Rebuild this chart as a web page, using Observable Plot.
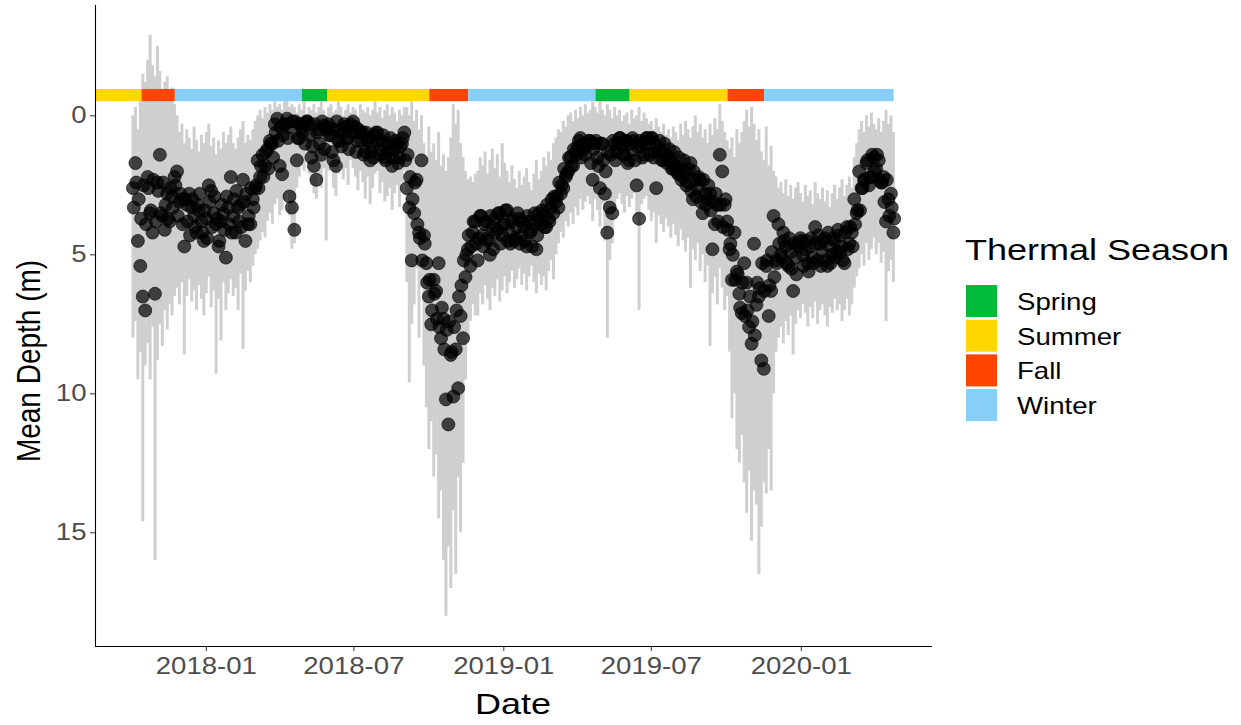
<!DOCTYPE html>
<html>
<head>
<meta charset="utf-8">
<script src="https://cdn.jsdelivr.net/npm/d3@7"></script>
<script src="https://cdn.jsdelivr.net/npm/@observablehq/plot@0.6"></script>
<style>
  body { margin: 0; background: #fff; font-family: "Liberation Sans", Arial, sans-serif; }
  #wrap { position: relative; width: 1241px; height: 725px; }
  #wrap svg { position: absolute; left: 0; top: 0; }
</style>
</head>
<body>
<div id="wrap"></div>
<script>
// Daily depth summary, one record every 3 days starting 2017-10-03
const seriesStart = "2017-10-03";
const stepDays = 3;

// Mean depth (m) on each record day
const meanDepth = [
  2.6,1.7,4.5,5.4,6.5,7.0,2.2,3.5,4.2,6.4,
  2.4,1.4,3.6,4.1,2.8,3.8,2.9,2.2,2.0,3.1,
  3.0,4.7,3.2,2.8,3.3,3.6,4.2,3.4,3.8,4.5,
  3.7,2.5,2.7,3.5,3.9,4.7,3.8,3.5,5.1,3.3,
  2.2,3.6,4.2,3.3,3.2,2.3,4.5,3.9,3.9,3.0,
  2.6,1.6,2.2,1.4,1.8,1.2,0.9,1.0,0.3,0.1,
  1.8,2.1,0.3,0.1,2.9,3.3,4.1,1.6,0.8,0.4,
  0.3,0.2,0.3,1.5,1.8,2.3,0.5,1.4,0.35,0.5,
  0.3,0.7,1.6,1.8,0.9,0.5,0.6,0.4,0.8,0.3,
  0.2,0.4,0.9,0.6,0.6,1.3,0.9,1.6,1.1,0.7,
  0.6,1.2,0.9,1.5,1.3,1.25,1.8,1.2,1.0,1.5,
  1.0,0.6,2.6,3.3,5.2,3.5,2.3,4.2,1.6,4.3,
  5.3,6.5,7.5,5.9,6.3,5.3,8.0,7.3,10.2,11.1,
  8.6,10.1,8.4,9.8,7.2,8.0,5.8,4.8,5.4,4.2,
  3.8,5.2,3.6,4.3,3.9,4.4,5.0,4.0,3.7,4.1,
  3.5,4.3,3.9,3.4,4.2,3.8,4.5,4.0,3.7,4.3,
  4.0,4.7,3.8,4.1,3.9,4.8,3.5,3.9,3.6,4.0,
  3.7,3.3,3.5,3.1,3.3,2.8,2.6,2.2,2.0,1.5,
  1.8,1.3,1.1,0.8,1.2,1.4,1.0,0.9,2.3,1.0,
  1.5,2.6,1.0,2.8,4.2,3.3,3.5,1.0,1.3,0.8,
  1.1,1.4,0.9,1.6,1.25,0.9,2.5,3.7,1.1,1.4,
  0.8,1.0,0.8,1.5,2.6,1.3,1.25,1.6,1.4,1.5,
  1.6,1.9,1.8,2.1,1.9,2.2,2.0,2.4,1.7,3.0,
  2.3,2.6,2.3,3.5,2.8,3.0,2.8,4.8,3.9,3.2,
  1.4,2.0,3.2,3.8,4.8,5.9,4.2,5.6,6.4,7.1,
  5.3,6.0,7.6,8.2,4.6,6.8,6.5,8.8,9.1,5.4,
  7.2,6.3,3.6,5.2,3.9,5.0,4.2,4.7,5.4,4.9,
  6.3,5.1,4.6,4.4,5.0,4.8,5.3,4.7,5.1,4.0,
  5.2,4.6,4.9,4.4,5.4,4.7,5.0,4.5,4.9,4.3,
  4.7,5.3,4.0,4.6,4.2,3.0,3.5,2.0,2.6,2.3,
  1.7,2.5,2.2,1.5,1.9,1.6,2.4,2.2,3.8,3.0,
  2.8,4.2
];

// Mean depth (m) on the day after each record day
const meanDepthNext = [
  3.3,2.4,3.0,3.7,2.5,3.9,2.6,3.4,2.3,3.8,
  2.7,3.5,2.4,3.2,3.7,2.6,3.3,2.5,
  3.6,2.8,3.9,3.0,3.8,4.3,3.0,4.0,3.2,2.8,
  4.2,3.4,4.4,3.1,4.0,2.9,3.7,4.5,3.2,4.1,
  2.9,3.9,4.2,3.0,2.7,3.8,4.0,3.1,2.8,3.6,
  2.6,3.3,2.5,
  2.6,1.8,2.2,1.3,1.9,1.0,1.5,0.6,0.9,0.4,
  0.7,0.3,0.8,0.4,0.2,
  0.2,0.8,0.3,0.6,1.0,0.2,0.7,1.1,0.3,0.6,
  1.0,0.2,1.2,0.4,0.7,1.3,0.5,0.2,0.9,1.1,
  0.3,0.8,1.2,0.4,0.6,1.3,0.5,0.9,1.4,0.6,
  0.8,1.3,1.5,0.6,0.9,1.4,0.7,1.6,1.0,0.8,
  1.5,0.9,1.7,1.1,0.8,1.6,
  1.4,2.2,3.0,2.4,3.9,4.4,5.2,4.6,6.0,5.9,
  7.0,6.4,7.3,7.6,6.9,8.4,7.7,7.4,8.5,7.6,
  7.0,6.5,6.1,5.2,5.0,4.3,4.7,3.8,4.6,
  4.4,3.6,4.7,3.8,4.5,3.6,4.8,4.2,3.5,4.6,
  3.9,3.4,4.5,4.6,3.7,4.4,3.5,4.6,3.8,4.5,
  3.6,4.2,4.7,3.5,4.3,3.7,3.4,4.0,3.2,3.8,
  3.0,2.9,
  2.9,2.4,2.5,1.9,2.1,1.5,1.8,1.2,1.4,0.9,
  1.5,1.0,1.1,0.9,1.7,1.2,0.9,1.8,1.0,1.6,
  2.0,1.3,1.4,0.9,1.6,1.0,0.8,1.4,0.9,1.7,
  1.0,0.8,1.6,1.1,0.9,1.5,1.0,0.8,
  1.4,0.8,1.3,1.1,0.9,1.6,1.0,1.7,1.2,1.9,
  1.3,2.0,1.5,2.3,1.6,2.5,1.9,2.7,2.0,2.9,
  2.2,3.1,2.3,3.2,2.5,3.4,3.1,2.8,3.8,3.2,
  4.0,3.0,4.1,
  4.6,5.0,5.9,5.7,6.9,6.0,7.2,7.0,6.5,7.4,
  7.9,6.0,6.2,5.3,6.3,5.2,6.1,4.9,5.8,
  5.3,4.6,5.1,4.5,5.3,4.4,5.5,4.6,5.7,4.7,
  4.5,5.4,4.5,5.6,4.4,5.3,4.6,4.3,5.4,4.5,
  5.2,4.2,5.3,4.4,5.1,4.1,4.9,5.2,4.2,4.8,
  4.0,4.7,3.9,3.4,
  3.4,2.6,2.3,1.6,2.2,1.4,2.0,1.4,2.3,2.4,
  3.1,2.3,3.6,3.3,3.7
];

// Shallowest depth of the record day (m)
const minDepth = [
  0.0,-0.3,0.5,-0.5,-1.5,-1.2,-2.0,-2.9,-1.8,-1.4,
  -2.5,-1.6,-0.8,-1.2,-1.4,-0.6,-1.0,-0.4,
  0.0,0.6,0.3,1.0,0.5,0.8,1.2,0.4,0.9,1.3,0.7,1.0,
  0.6,0.3,1.1,0.8,1.4,0.9,1.2,0.6,1.0,0.7,
  0.4,1.0,1.2,0.8,0.5,0.2,1.0,0.7,0.9,0.5,0.2,
  0.0,-0.2,0.1,-0.3,-0.1,-0.4,-0.2,-0.5,-0.3,-0.4,-0.2,-0.5,-0.6,-0.3,-0.4,
  -0.3,-0.1,-0.4,-0.2,-0.5,0.0,-0.3,-0.2,-0.4,-0.1,
  -0.3,-0.5,-0.2,0.0,-0.3,-0.4,-0.1,-0.2,-0.5,-0.3,
  0.0,-0.2,-0.4,-0.1,-0.3,-0.2,0.1,-0.4,-0.2,-0.1,
  -0.3,0.0,-0.2,-0.5,-0.1,-0.3,0.1,-0.2,-0.4,0.0,
  -0.3,-0.1,0.2,-0.2,0.0,-0.3,
  -0.3,0.0,-0.5,0.2,-0.2,0.5,0.0,1.0,1.5,0.4,
  1.3,1.0,1.6,0.6,1.8,1.4,2.0,1.5,0.8,-0.4,
  0.3,-0.2,1.0,1.5,2.0,2.3,2.2,2.4,2.1,
  2.0,1.5,1.8,1.3,2.1,1.6,1.2,1.9,1.4,2.2,
  1.0,1.7,2.0,2.4,1.8,2.3,2.6,2.0,2.5,2.2,
  1.9,2.4,2.7,2.1,1.6,2.3,2.0,1.5,1.8,1.3,
  1.6,1.0,
  0.8,0.5,0.6,0.2,0.4,0.0,-0.1,0.2,-0.2,0.1,
  -0.3,0.0,-0.4,-0.1,-0.2,-0.5,-0.3,-0.1,-0.6,-0.2,
  0.0,-0.4,-0.2,0.1,-0.3,0.0,-0.2,0.2,0.0,-0.1,
  0.3,-0.2,0.1,0.0,-0.3,0.2,-0.1,0.1,
  0.3,0.2,0.5,0.1,0.4,0.6,0.3,0.7,0.5,0.8,
  0.4,0.6,0.9,0.3,0.7,0.2,0.5,0.8,0.4,0.0,
  0.6,0.3,0.8,0.5,1.0,0.3,0.7,0.1,0.5,-0.4,
  0.2,0.6,0.9,
  1.2,0.8,1.5,0.5,1.0,0.6,0.2,-0.2,0.4,-0.3,
  0.3,0.9,0.5,1.3,1.6,0.4,1.8,1.1,2.0,
  2.2,2.6,2.4,2.8,2.3,2.9,2.5,3.0,2.6,2.4,
  2.8,3.1,2.5,2.9,2.7,3.2,2.4,2.8,3.0,2.6,
  3.1,2.7,3.3,2.8,2.5,3.0,2.6,2.3,2.9,2.5,
  2.2,2.6,1.5,1.0,
  0.5,0.2,0.6,0.0,0.4,-0.1,0.3,0.5,0.1,0.6,
  0.2,-0.2,0.3,0.0,0.6
];

// Deepest depth of the record day (m)
const maxDepth = [
  8.0,7.4,9.5,8.5,14.6,9.0,8.2,9.5,7.6,16.0,
  8.8,7.5,8.3,7.0,7.7,6.8,7.2,6.5,
  6.2,6.8,6.0,8.6,6.5,5.9,6.7,6.3,7.0,6.1,
  6.6,7.2,6.4,5.8,6.9,6.3,9.3,6.6,8.1,6.0,
  7.0,6.4,5.9,6.5,6.2,7.0,5.7,8.4,6.3,5.6,
  6.0,5.4,5.0,
  4.8,4.5,4.2,4.4,3.8,3.5,3.9,3.2,3.0,3.6,
  3.4,3.0,2.8,3.6,4.8,
  4.6,2.6,2.2,1.8,2.0,1.6,2.1,2.5,2.8,3.0,
  2.2,2.6,1.9,4.5,2.0,1.8,2.6,2.9,2.1,1.7,
  2.3,1.9,2.5,1.6,1.9,2.2,2.7,2.0,2.4,3.0,
  2.2,3.2,2.6,2.1,2.0,2.8,2.4,3.1,2.9,2.6,
  3.4,2.8,2.5,3.3,2.4,2.0,
  6.0,9.6,7.5,6.8,5.5,8.0,6.2,9.0,10.5,12.0,
  11.0,13.0,12.2,14.5,13.5,16.0,18.0,15.5,17.0,14.2,
  16.5,13.0,15.0,12.5,9.5,8.0,7.4,6.8,7.2,
  7.2,6.4,6.8,6.1,6.6,7.0,6.2,6.5,5.9,6.7,
  6.3,5.8,6.4,6.0,5.6,6.2,5.9,5.5,6.1,5.7,
  6.3,5.8,5.4,6.0,6.4,5.7,6.1,5.8,6.3,5.6,
  5.2,5.9,
  5.0,4.6,4.2,4.4,3.8,4.0,3.5,3.9,3.3,3.6,
  3.0,3.4,3.1,2.9,3.2,3.8,3.0,3.4,4.0,3.2,
  4.5,8.0,5.2,4.6,3.3,3.0,2.8,3.2,3.5,2.9,
  3.3,3.0,2.8,3.6,7.0,3.2,3.0,2.9,
  3.4,3.8,3.5,4.6,3.6,3.9,4.2,3.7,4.0,4.4,
  3.9,4.3,4.7,4.1,4.5,4.9,4.4,6.2,4.8,5.2,
  4.6,5.6,5.0,6.0,5.4,8.3,6.4,5.8,6.8,5.5,
  6.2,7.0,6.5,
  8.5,10.9,10.0,12.0,12.5,11.5,13.2,14.3,12.8,15.3,
  13.5,14.0,16.5,14.8,13.2,13.6,12.0,13.5,10.0,
  8.5,8.0,7.6,8.2,7.4,7.9,7.2,8.6,7.5,7.0,
  7.3,6.8,7.1,7.6,6.9,7.3,6.7,7.5,7.0,6.8,
  7.2,7.6,6.9,7.1,6.6,7.0,6.8,7.4,7.0,6.6,
  7.2,6.8,6.2,5.8,
  5.5,5.0,5.4,4.6,5.2,4.8,4.4,5.0,4.6,5.3,
  4.9,7.4,5.6,5.2,6.0
];

// Thermal seasons
const seasonName  = ["Summer","Fall","Winter","Spring","Summer","Fall","Winter","Spring","Summer","Fall","Winter"];
const seasonStart = ["2017-08-19","2017-10-14","2017-11-24","2018-04-29","2018-05-30","2018-10-02","2018-11-19","2019-04-24","2019-06-05","2019-10-03","2019-11-17"];
const seasonEnd   = ["2017-10-14","2017-11-24","2018-04-29","2018-05-30","2018-10-02","2018-11-19","2019-04-24","2019-06-05","2019-10-03","2019-11-17","2020-04-24"];
const seasonOrder  = ["Spring","Summer","Fall","Winter"];
const seasonColors = ["#00BA38","#FFD700","#FF4500","#87CEFA"];

// Axis ticks
const xTicks = ["2018-01-01","2018-07-01","2019-01-01","2019-07-01","2020-01-01"];
const yTicks = [0, 5, 10, 15];

const dayMs = 864e5;
const t0 = new Date(seriesStart + "T00:00:00Z").getTime();
const ranges = meanDepth.map((m, i) => ({
  date: new Date(t0 + i * stepDays * dayMs),
  lo: minDepth[i],
  hi: maxDepth[i]
}));
const means = [
  ...meanDepth.map((m, i) => ({ date: new Date(t0 + i * stepDays * dayMs), mean: m })),
  ...meanDepthNext.map((m, i) => ({ date: new Date(t0 + (i * stepDays + 1) * dayMs), mean: m }))
].sort((a, b) => a.date - b.date);
const seasons = seasonName.map((s, i) => ({
  season: s,
  from: new Date(seasonStart[i] + "T00:00:00Z"),
  to: new Date(seasonEnd[i] + "T00:00:00Z")
}));

const xDomain = [new Date("2017-08-18T00:00:00Z"), new Date("2020-06-10T00:00:00Z")];
const yDomain = [-3.97, 19.09];
const stretch = 1.2; // wide lettering

const chart = Plot.plot({
  width: 1241,
  height: 725,
  marginLeft: 95,
  marginRight: 309,
  marginTop: 5,
  marginBottom: 79,
  style: { fontFamily: "'Liberation Sans', Arial, sans-serif", fontSize: "23px", color: "#4D4D4D", background: "white" },
  x: { type: "utc", domain: xDomain },
  y: { domain: yDomain, reverse: true },
  color: { domain: seasonOrder, range: seasonColors },
  marks: [
    Plot.ruleX(ranges, { x: "date", y1: "lo", y2: "hi", stroke: "#cfcfcf", strokeWidth: 3 }),
    Plot.dot(means, { x: "date", y: "mean", r: 6.5, fill: "black", fillOpacity: 0.7, stroke: "black", strokeOpacity: 0.75, strokeWidth: 0.8 }),
    Plot.rect(seasons, { x1: "from", x2: "to", y1: -0.95, y2: -0.51, fill: "season" }),
    Plot.axisX({ ticks: xTicks.map(d => new Date(d + "T00:00:00Z")), tickFormat: d3.utcFormat("%Y-%m"), label: null, tickSize: 5, tickPadding: 6, stroke: "#333", fill: "#4D4D4D" }),
    Plot.axisY({ ticks: yTicks, label: null, tickSize: 5, tickPadding: 4, stroke: "#333", fill: "#4D4D4D" }),
    Plot.ruleX([xDomain[0]], { stroke: "black", strokeWidth: 1.1 }),
    Plot.ruleY([yDomain[1]], { stroke: "black", strokeWidth: 1.1 })
  ]
});

// widen tick lettering horizontally, keeping each label's anchor fixed
chart.querySelectorAll("text").forEach(t => {
  const tr = t.getAttribute("transform");
  if (tr) {
    t.setAttribute("transform", tr + ` scale(${stretch},1)`);
  } else {
    const x = +(t.getAttribute("x") || 0), y = +(t.getAttribute("y") || 0);
    t.removeAttribute("x"); t.removeAttribute("y");
    t.setAttribute("transform", `translate(${x},${y}) scale(${stretch},1)`);
  }
});

const wrap = document.getElementById("wrap");
wrap.appendChild(chart);

// Axis titles and season legend
const overlay = d3.select(wrap).append("svg")
  .attr("width", 1241).attr("height", 725)
  .style("pointer-events", "none")
  .style("font-family", "'Liberation Sans', Arial, sans-serif");

overlay.append("text")
  .attr("transform", `translate(513,714) scale(${stretch},1)`)
  .attr("text-anchor", "middle")
  .attr("font-size", 30).attr("fill", "black")
  .text("Date");

overlay.append("text")
  .attr("transform", `translate(40,361) rotate(-90) scale(1,${stretch})`)
  .attr("text-anchor", "middle")
  .attr("font-size", 28).attr("fill", "black")
  .text("Mean Depth (m)");

overlay.append("text")
  .attr("transform", `translate(965,260) scale(${stretch},1)`)
  .attr("font-size", 30).attr("fill", "black")
  .text("Thermal Season");

const keys = overlay.selectAll("g.key").data(seasonOrder).join("g")
  .attr("class", "key")
  .attr("transform", (d, i) => `translate(966,${285 + i * 34.7})`);
keys.append("rect")
  .attr("width", 31).attr("height", 32)
  .attr("fill", (d, i) => seasonColors[i]);
keys.append("text")
  .attr("transform", `translate(51,25) scale(${stretch},1)`)
  .attr("font-size", 23).attr("fill", "black")
  .text(d => d);
</script>
</body>
</html>
